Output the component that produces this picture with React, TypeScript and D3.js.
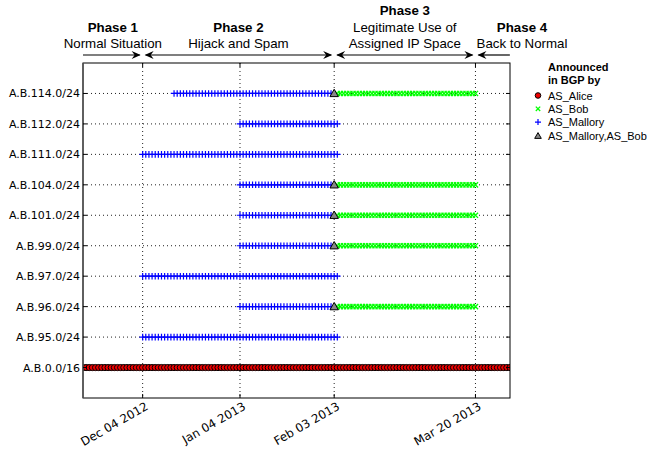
import React from 'react';
import * as d3 from 'd3';

// prefixes, bottom to top
const prefixes = [
  'A.B.0.0/16',
  'A.B.95.0/24',
  'A.B.96.0/24',
  'A.B.97.0/24',
  'A.B.99.0/24',
  'A.B.101.0/24',
  'A.B.104.0/24',
  'A.B.111.0/24',
  'A.B.112.0/24',
  'A.B.114.0/24',
];

// daily announcements seen in BGP, as [prefix, first day, last day]
const aliceAnnouncements = [
  ['A.B.0.0/16', '2012-11-13', '2013-04-02'],
];

const malloryAnnouncements = [
  ['A.B.95.0/24', '2012-12-04', '2013-02-04'],
  ['A.B.96.0/24', '2013-01-04', '2013-02-02'],
  ['A.B.97.0/24', '2012-12-04', '2013-02-04'],
  ['A.B.99.0/24', '2013-01-04', '2013-02-02'],
  ['A.B.101.0/24', '2013-01-04', '2013-02-02'],
  ['A.B.104.0/24', '2013-01-04', '2013-02-02'],
  ['A.B.111.0/24', '2012-12-04', '2013-02-04'],
  ['A.B.112.0/24', '2013-01-04', '2013-02-04'],
  ['A.B.114.0/24', '2012-12-14', '2013-02-02'],
];

const bobAnnouncements = [
  ['A.B.96.0/24', '2013-02-04', '2013-03-20'],
  ['A.B.99.0/24', '2013-02-04', '2013-03-20'],
  ['A.B.101.0/24', '2013-02-04', '2013-03-20'],
  ['A.B.104.0/24', '2013-02-04', '2013-03-20'],
  ['A.B.114.0/24', '2013-02-04', '2013-03-20'],
];

const bothAnnouncements = [
  ['A.B.96.0/24', '2013-02-03', '2013-02-03'],
  ['A.B.99.0/24', '2013-02-03', '2013-02-03'],
  ['A.B.101.0/24', '2013-02-03', '2013-02-03'],
  ['A.B.104.0/24', '2013-02-03', '2013-02-03'],
  ['A.B.114.0/24', '2013-02-03', '2013-02-03'],
];

const tickDates = ['2012-12-04', '2013-01-04', '2013-02-03', '2013-03-20'];
const dateRange = ['2012-11-15', '2013-03-31'];

// phase boundaries and their labels
const phaseBounds = ['2012-11-15', '2012-12-04', '2013-02-03', '2013-03-20', '2013-03-31'];
const phaseTitles = ['Phase 1', 'Phase 2', 'Phase 3', 'Phase 4'];
const phaseTexts = [['Normal Situation'], ['Hijack and Spam'], ['Legitimate Use of', 'Assigned IP Space'], ['Back to Normal']];

const legendLabels = ['AS_Alice', 'AS_Bob', 'AS_Mallory', 'AS_Mallory,AS_Bob'];

const parse = d3.utcParse('%Y-%m-%d');
const fmt = d3.utcFormat('%b %d %Y');

const width = 662;
const height = 450;
const margin = { top: 63, right: 152, bottom: 52, left: 83 };

const x = d3.scaleUtc()
  .domain(dateRange.map(d => parse(d)))
  .range([margin.left, width - margin.right]);

const y = d3.scaleLinear()
  .domain([-1, prefixes.length])
  .range([height - margin.bottom, margin.top]);

const days = (rows) => rows.flatMap(([p, a, b]) =>
  d3.utcDay.range(parse(a), d3.utcDay.offset(parse(b), 1)).map(d => ({ p, d })));

const Plus = ({ cx, cy, s = 3.3 }) => (
  <path d={`M${cx - s},${cy}H${cx + s}M${cx},${cy - s}V${cy + s}`} stroke="#0000ff" strokeWidth={1.2} />
);
const Cross = ({ cx, cy, s = 2.6 }) => (
  <path d={`M${cx - s},${cy - s}L${cx + s},${cy + s}M${cx - s},${cy + s}L${cx + s},${cy - s}`} stroke="#00ff00" strokeWidth={1.3} />
);
const Dot = ({ cx, cy, r = 3.1 }) => (
  <circle cx={cx} cy={cy} r={r} fill="#ee0000" stroke="#000" strokeWidth={1} />
);
const Tri = ({ cx, cy, s = 4.2 }) => (
  <path d={`M${cx},${cy - s}L${cx + s},${cy + s * 0.75}L${cx - s},${cy + s * 0.75}Z`} fill="#888" stroke="#000" strokeWidth={1} />
);

const head = (tx, ty, dir) => {
  const k = dir;
  return `M${tx},${ty}L${tx - 9 * k},${ty - 4}L${tx - 6 * k},${ty}L${tx - 9 * k},${ty + 4}Z`;
};

const App = () => {
  const x0 = margin.left;
  const x1 = width - margin.right;
  const y0 = margin.top;
  const y1 = height - margin.bottom;
  const bx = phaseBounds.map(d => x(parse(d)));
  const arrowY = 55;
  const sans = '"Liberation Sans", Arial, sans-serif';
  const dejavu = '"DejaVu Sans", sans-serif';

  const titleX = [(bx[0] + bx[1]) / 2, (bx[1] + bx[2]) / 2, (bx[2] + bx[3]) / 2, 522];

  return (
    <svg width={width} height={height} style={{ position: 'absolute', left: 0, top: 0, background: '#fff' }}>
      <defs>
        <clipPath id="plot">
          <rect x={x0} y={y0} width={x1 - x0} height={y1 - y0} />
        </clipPath>
      </defs>

      {/* grid */}
      {prefixes.map(p => (
        <line key={p} x1={x0} x2={x1} y1={y(prefixes.indexOf(p))} y2={y(prefixes.indexOf(p))}
          stroke="#222" strokeWidth={1} strokeDasharray="1,3" />
      ))}
      {tickDates.map(t => (
        <line key={t} x1={x(parse(t))} x2={x(parse(t))} y1={y0} y2={y1}
          stroke="#222" strokeWidth={1} strokeDasharray="1,3" />
      ))}

      {/* marks */}
      <g clipPath="url(#plot)">
        {days(aliceAnnouncements).map((m, i) => (
          <Dot key={'a' + i} cx={x(m.d)} cy={y(prefixes.indexOf(m.p))} />
        ))}
        {days(malloryAnnouncements).map((m, i) => (
          <Plus key={'m' + i} cx={x(m.d)} cy={y(prefixes.indexOf(m.p))} />
        ))}
        {days(bobAnnouncements).map((m, i) => (
          <Cross key={'b' + i} cx={x(m.d)} cy={y(prefixes.indexOf(m.p))} />
        ))}
        {days(bothAnnouncements).map((m, i) => (
          <Tri key={'t' + i} cx={x(m.d)} cy={y(prefixes.indexOf(m.p))} />
        ))}
      </g>

      {/* frame and ticks */}
      <rect x={x0} y={y0} width={x1 - x0} height={y1 - y0} fill="none" stroke="#000" strokeWidth={1} />
      <line x1={x0} x2={x0} y1={y0} y2={y1} stroke="#555" strokeWidth={1.5} />
      {prefixes.map((p, i) => (
        <g key={p}>
          <line x1={x0} x2={x0 + 4} y1={y(i)} y2={y(i)} stroke="#000" />
          <line x1={x1 - 4} x2={x1} y1={y(i)} y2={y(i)} stroke="#000" />
          <text x={x0 - 3} y={y(i)} dy="0.36em" textAnchor="end" fontFamily={dejavu} fontSize={11}>{p}</text>
        </g>
      ))}
      {tickDates.map(t => {
        const tx = x(parse(t));
        return (
          <g key={t}>
            <line x1={tx} x2={tx} y1={y1 - 4} y2={y1} stroke="#000" />
            <line x1={tx} x2={tx} y1={y0} y2={y0 + 4} stroke="#000" />
            <text transform={`translate(${tx + 2},${y1 + 3}) rotate(-30)`} dy="0.75em" textAnchor="end"
              fontFamily={dejavu} fontSize={11.8}>{fmt(parse(t))}</text>
          </g>
        );
      })}

      {/* phases */}
      {phaseTitles.map((t, i) => {
        const lines = phaseTexts[i];
        const base = 48 - lines.length * 16.5;
        return (
          <text key={t} x={titleX[i]} textAnchor="middle" fontFamily={sans} fontSize={13.3}>
            <tspan x={titleX[i]} y={base} fontWeight="bold">{t}</tspan>
            {lines.map((l, j) => (
              <tspan key={l} x={titleX[i]} y={base + 16.5 * (j + 1)}>{l}</tspan>
            ))}
          </text>
        );
      })}
      <g stroke="#000" strokeWidth={1.2}>
        <line x1={bx[0]} x2={bx[1] - 3} y1={arrowY} y2={arrowY} />
        <line x1={bx[1] + 3} x2={bx[2] - 3} y1={arrowY} y2={arrowY} />
        <line x1={bx[2] + 3} x2={bx[3] - 3} y1={arrowY} y2={arrowY} />
        <line x1={bx[3] + 3} x2={bx[4]} y1={arrowY} y2={arrowY} />
      </g>
      <g fill="#000">
        <path d={head(bx[1] - 2, arrowY, 1)} />
        <path d={head(bx[1] + 2, arrowY, -1)} />
        <path d={head(bx[2] - 2, arrowY, 1)} />
        <path d={head(bx[2] + 2, arrowY, -1)} />
        <path d={head(bx[3] - 2, arrowY, 1)} />
        <path d={head(bx[3] + 2, arrowY, -1)} />
      </g>

      {/* legend */}
      <g fontFamily={sans} fontSize={11}>
        <text x={548} y={71} fontWeight="bold">Announced</text>
        <text x={548} y={84} fontWeight="bold">in BGP by</text>
        {legendLabels.map((l, i) => {
          const ly = 96 + i * 13.3;
          return (
            <g key={l}>
              {i === 0 && <Dot cx={538} cy={ly - 0.5} r={2.8} />}
              {i === 1 && <Cross cx={538} cy={ly - 0.5} s={2.2} />}
              {i === 2 && <Plus cx={538} cy={ly - 0.5} s={3} />}
              {i === 3 && <Tri cx={538} cy={ly} s={3.3} />}
              <text x={548} y={ly} dy="0.35em">{l}</text>
            </g>
          );
        })}
      </g>
    </svg>
  );
};

export default App;
